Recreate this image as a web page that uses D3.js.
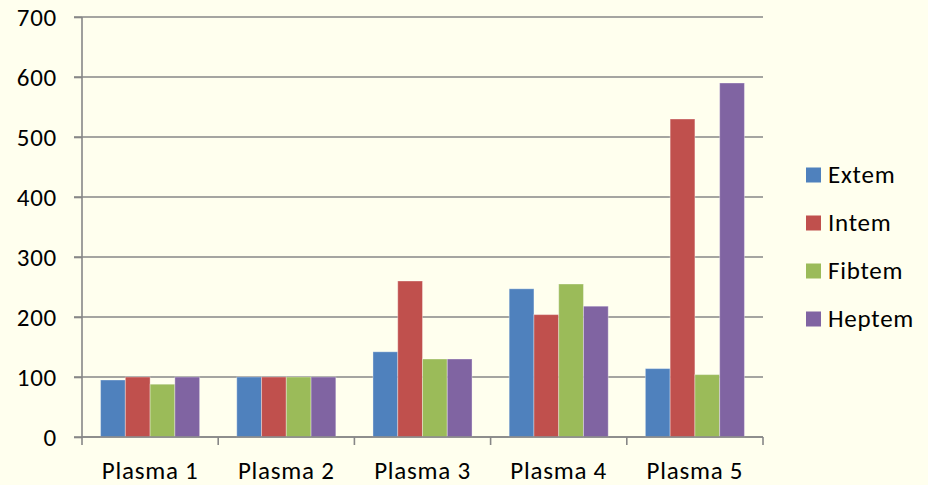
<!DOCTYPE html>
<html>
<head>
<meta charset="utf-8">
<script src="https://cdn.jsdelivr.net/npm/d3@7"></script>
<style>
    html, body { margin: 0; padding: 0; background: #FFFFEE; }
    svg { display: block; }
    text { font-family: Carlito, Lato, "Open Sans", sans-serif; fill: #000; }
</style>
</head>
<body>
<div id="chart"></div>
<script>
// 数据
const categories = ['Plasma 1', 'Plasma 2', 'Plasma 3', 'Plasma 4', 'Plasma 5'];
const seriesNames = ['Extem', 'Intem', 'Fibtem', 'Heptem'];
const seriesColors = ['#4F81BD', '#C0504D', '#9BBB59', '#8064A2'];
const extem = [95, 100, 142, 247, 114];
const intem = [100, 100, 260, 204, 530];
const fibtem = [88, 100, 130, 255, 104];
const heptem = [100, 100, 130, 218, 590];
const yTicks = [0, 100, 200, 300, 400, 500, 600, 700];

const seriesValues = [extem, intem, fibtem, heptem];

const width = 928, height = 485;
const plot = { left: 82, right: 763, top: 17, bottom: 437 };
const fontFamily = 'Carlito, Lato, "Open Sans", sans-serif';
const fontSize = '25px';
const letterSpacing = '0.75px';

const svg = d3.select('#chart')
    .append('svg')
    .attr('width', width)
    .attr('height', height);

svg.append('rect')
    .attr('width', width)
    .attr('height', height)
    .attr('fill', '#FFFFEE');

// 比例尺
const x0 = d3.scaleBand()
    .domain(categories)
    .range([plot.left, plot.right])
    .padding(0);

const barW = x0.bandwidth() / 5.5;
const x1 = d3.scaleBand()
    .domain(seriesNames)
    .range([barW * 0.75, barW * 4.75])
    .padding(0);

const y = d3.scaleLinear()
    .domain([0, 700])
    .range([plot.bottom, plot.top]);

const gridColor = '#878787';

// 网格线
svg.append('g')
    .selectAll('line')
    .data(yTicks)
    .enter().append('line')
    .attr('x1', plot.left - 8)
    .attr('x2', plot.right)
    .attr('y1', d => y(d))
    .attr('y2', d => y(d))
    .attr('stroke', gridColor)
    .attr('stroke-width', 1.6);

// 柱子
const groups = svg.append('g')
    .selectAll('g')
    .data(categories)
    .enter().append('g')
    .attr('transform', d => `translate(${x0(d)},0)`);

groups.selectAll('rect')
    .data((c, i) => seriesNames.map((s, j) => ({ s, j, v: seriesValues[j][i] })))
    .enter().append('rect')
    .attr('x', d => x1(d.s))
    .attr('y', d => y(d.v))
    .attr('width', x1.bandwidth())
    .attr('height', d => y(0) - y(d.v))
    .attr('fill', d => seriesColors[d.j])
    .attr('stroke', 'rgba(255,255,255,0.35)')
    .attr('stroke-width', 1);

// Y轴
const yAxis = svg.append('g')
    .attr('transform', `translate(${plot.left},0)`)
    .call(d3.axisLeft(y).tickValues(yTicks).tickSize(8).tickPadding(17));
yAxis.select('.domain').attr('stroke', gridColor).attr('stroke-width', 1.6)
    .attr('d', `M0,${plot.top}V${plot.bottom}`);
yAxis.selectAll('.tick line').attr('stroke', gridColor).attr('stroke-width', 1.6);
yAxis.selectAll('.tick text')
    .style('font-size', fontSize)
    .style('font-family', fontFamily)
    .style('letter-spacing', letterSpacing)
    .attr('fill', '#000');

// X轴
const xAxis = svg.append('g')
    .attr('transform', `translate(0,${plot.bottom})`)
    .call(d3.axisBottom(x0).tickSize(0).tickPadding(24.5));
xAxis.select('.domain').attr('stroke', gridColor).attr('stroke-width', 1.6)
    .attr('d', `M${plot.left},0H${plot.right}`);
xAxis.selectAll('.tick line').remove();
xAxis.selectAll('.tick text')
    .style('font-size', fontSize)
    .style('font-family', fontFamily)
    .style('letter-spacing', letterSpacing)
    .attr('fill', '#000');

// 类别分隔刻度
const bounds = categories.map(c => x0(c)).concat([plot.right]);
svg.append('g')
    .selectAll('line')
    .data(bounds)
    .enter().append('line')
    .attr('x1', d => d)
    .attr('x2', d => d)
    .attr('y1', plot.bottom)
    .attr('y2', plot.bottom + 8)
    .attr('stroke', gridColor)
    .attr('stroke-width', 1.6);

// 图例
const legend = svg.append('g')
    .selectAll('g')
    .data(seriesNames)
    .enter().append('g')
    .attr('transform', (d, i) => `translate(806,${175 + i * 48})`);

legend.append('rect')
    .attr('x', 0)
    .attr('y', -7.5)
    .attr('width', 15)
    .attr('height', 15)
    .attr('fill', (d, i) => seriesColors[i]);

legend.append('text')
    .attr('x', 22)
    .attr('dy', '0.3em')
    .style('font-size', fontSize)
    .style('letter-spacing', letterSpacing)
    .text(d => d);
</script>
</body>
</html>
